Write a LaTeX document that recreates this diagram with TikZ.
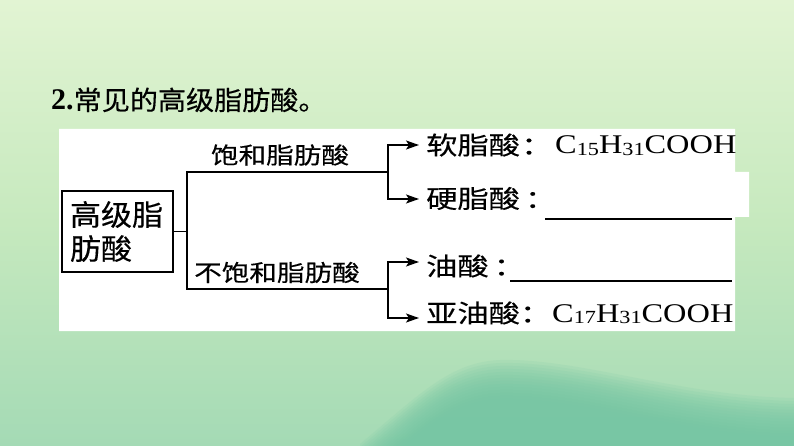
\documentclass[tikz,border=0pt]{standalone}
\usepackage{fontspec}
\setmainfont{Liberation Serif}
\newfontfamily\cjk[FakeBold=0.3]{Noto Sans CJK SC}
\usetikzlibrary{arrows.meta}
\definecolor{bgtop}{HTML}{E2F4D3}
\definecolor{bgmid}{HTML}{C6E9BE}
\definecolor{bgbot}{HTML}{A4DAB5}
\definecolor{wave}{HTML}{74C6A4}
\newcommand\sz[2]{\fontsize{#1}{#2}\selectfont}
\newcommand\hs[2]{\scalebox{#1}[1]{#2}}
\newcommand\subs[1]{{\sz{18.5}{18}\raisebox{-1.5pt}{#1}}}
\newcommand\colonc{\makebox[0.45em][l]{：}}
\begin{document}
\begin{tikzpicture}[x=1pt,y=-1pt,
 lbl/.style={inner sep=0pt, font=\cjk\sz{23}{28}},
 rtext/.style={anchor=west, inner xsep=0pt, inner ysep=0pt, font=\cjk\sz{25}{28}},
 frm/.style={anchor=base west, inner sep=0pt, font=\sz{27}{30}},
 rootbox/.style={draw, line width=1.8pt, inner xsep=8pt, inner ysep=0pt, text width=95pt, minimum height=81pt, align=left, font=\cjk\sz{29}{34}},
 arr/.style={-{Stealth[length=13pt,width=9pt,inset=3pt]}, line width=1.7pt},
 conn/.style={line width=1.8pt},
 blank/.style={line width=1.6pt}
]
\useasboundingbox (0,0) rectangle (794,446);
\shade[top color=bgtop, bottom color=bgbot, middle color=bgmid] (0,0) rectangle (794,446);
\foreach \d in {-16,-13,...,24}{
  \fill[wave, opacity=0.13, shift={(0,\d)}] (360,460) .. controls (420,410) and (450,378) .. (500,376) .. controls (580,374) and (680,412) .. (794,414) -- (794,480) -- (360,480) -- cycle;
}
% white panel
\fill[white] (59,129) -- (735,129) -- (735,172) -- (749,172) -- (749,217) -- (735,217) -- (735,331) -- (59,331) -- cycle;
% title
\node[anchor=base west, inner sep=0pt] (title) at (51,110) {\sz{30}{30}\textbf{2.}\cjk\sz{26.5}{30}\hs{1.06}{常见的高级脂肪酸。}};
% root
\node[rootbox] (root) at (117.5,231.5) {\hs{1.07}{高级脂}\\\hs{1.07}{肪酸}};
\coordinate (j1) at (187,231.5);
\coordinate (sa) at (388,172);
\coordinate (ua) at (388,289);
\draw[conn] (root.east) -- (j1);
\draw[conn] (sa) -| (j1) |- (ua);
\node[lbl] (sat) at (280,155) {\hs{1.2}{饱和脂肪酸}};
\node[lbl] (unsat) at (277,272.5) {\hs{1.2}{不饱和脂肪酸}};
% right texts
\node[rtext] (r1) at (419,145) {\hs{1.25}{\hspace{5.6pt}软脂酸\hspace{1pt}\colonc}};
\node[rtext] (r2) at (419,198.5) {\hs{1.25}{\hspace{5.6pt}硬脂酸\hspace{4pt}\colonc}};
\node[rtext] (r3) at (419,266) {\hs{1.25}{\hspace{5.6pt}油酸\hspace{4pt}\colonc}};
\node[rtext] (r4) at (419,313) {\hs{1.25}{\hspace{5.6pt}亚油酸\colonc}};
\coordinate (y1) at (388,145);
\coordinate (y2) at (388,199);
\coordinate (y3) at (388,262);
\coordinate (y4) at (388,318);
\draw[arr] (sa) |- (y1 -| r1.west);
\draw[arr] (sa) |- (y2 -| r2.west);
\draw[arr] (ua) |- (y3 -| r3.west);
\draw[arr] (ua) |- (y4 -| r4.west);
\node[frm] (f1) at (555,154) {\hs{1.2}{C\subs{15}H\subs{31}COOH}};
\node[frm] (f4) at (552,322) {\hs{1.2}{C\subs{17}H\subs{31}COOH}};
\coordinate (u2a) at (545,219);
\coordinate (u2b) at (732,219);
\coordinate (u3a) at (510,281);
\coordinate (u3b) at (732,281);
\draw[blank] (u2a) -- (u2b);
\draw[blank] (u3a) -- (u3b);
\end{tikzpicture}
\end{document}
